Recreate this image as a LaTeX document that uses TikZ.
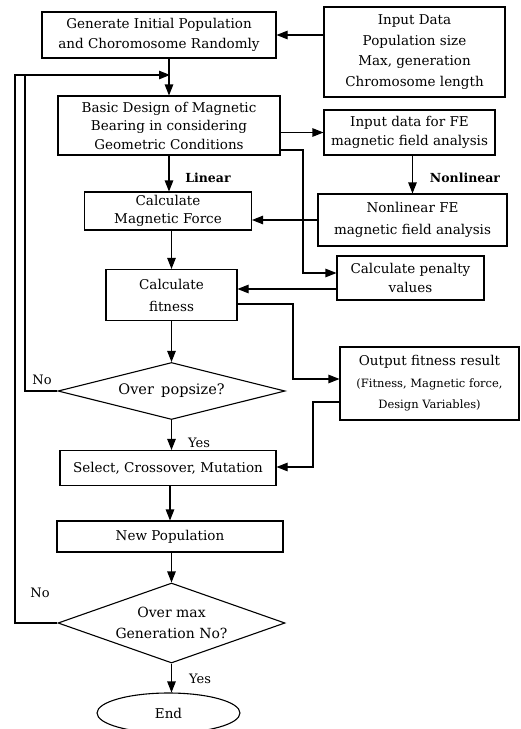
\documentclass[tikz,border=0pt]{standalone}
\usepackage{fontspec}
\setmainfont{DejaVu Serif}
\usetikzlibrary{shapes.geometric,arrows.meta}
\begin{document}
\begin{tikzpicture}[x=1pt,y=-1pt,
  box/.style={draw, line width=1.1pt, inner sep=0pt, align=center, font=\fontsize{13.5}{19.5}\selectfont},
  dec/.style={diamond, draw, line width=1.1pt, inner sep=0pt, align=center, font=\fontsize{13.5}{19.5}\selectfont},
  arr/.style={-{Triangle[length=11pt,width=8.5pt]}, line width=1.1pt},
  ln/.style={line width=1.1pt},
  lbl/.style={inner sep=0pt, font=\fontsize{13}{15}\selectfont},
  blbl/.style={inner sep=0pt, font=\fontsize{12.5}{15}\selectfont\bfseries}]
\useasboundingbox (0,0) rectangle (521,729);
\node[box, minimum width=234pt, minimum height=46pt] (gen) at (159,35) {Generate Initial Population\\and Choromosome Randomly};
\node[box, minimum width=181pt, minimum height=90pt, font=\fontsize{13.5}{20.5}\selectfont] (inp) at (414.5,52) {Input Data\\Population size\\Max, generation\\Chromosome length};
\node[box, minimum width=222pt, minimum height=59pt, font=\fontsize{13.5}{18.5}\selectfont] (basic) at (169,125.5) {Basic Design of Magnetic\\Bearing in considering\\Geometric Conditions};
\node[box, minimum width=171pt, minimum height=45pt] (fein) at (409.5,132.5) {Input data for FE\\magnetic field analysis};
\node[box, minimum width=167pt, minimum height=38pt, font=\fontsize{13.5}{18}\selectfont] (force) at (168,211) {Calculate\\Magnetic Force};
\node[box, minimum width=189pt, minimum height=52pt, font=\fontsize{13.5}{22}\selectfont] (nfe) at (412.5,220) {Nonlinear FE\\magnetic field analysis};
\node[box, minimum width=147pt, minimum height=44pt] (pen) at (410.5,278) {Calculate penalty\\values};
\node[box, minimum width=131pt, minimum height=51pt, font=\fontsize{13.5}{22}\selectfont] (fit) at (171.5,295) {Calculate\\fitness};
\node[box, minimum width=179pt, minimum height=73pt, font=\fontsize{13.5}{21.5}\selectfont] (out) at (429.5,383.5) {Output fitness result\\{\fontsize{11.5}{21.5}\selectfont (Fitness, Magnetic force,}\\{\fontsize{11.5}{21.5}\selectfont Design Variables)}};
\node[dec, aspect=4, minimum width=227pt, minimum height=57pt, font=\fontsize{14.5}{19.5}\selectfont] (pop) at (171.5,391) {Over\hspace{0.5em}popsize?};
\node[box, minimum width=216pt, minimum height=35pt] (sel) at (168,468) {Select, Crossover, Mutation};
\node[box, minimum width=226pt, minimum height=31pt] (newp) at (170,536.5) {New Population};
\node[dec, aspect=2.84, minimum width=227pt, minimum height=80pt, font=\fontsize{14}{21}\selectfont] (maxg) at (171.5,623) {Over max\\Generation No?};
\node[ellipse, draw, line width=1.1pt, inner sep=0pt, minimum width=143pt, minimum height=40pt, font=\fontsize{13.5}{15}\selectfont] (end) at (168.5,713) {End};
% labels
\node[blbl] (lin) at (208,178) {Linear};
\node[blbl] (nlin) at (465,178) {Nonlinear};
\node[lbl] (no1) at (42,380) {No};
\node[lbl] (yes1) at (199,443) {Yes};
\node[lbl] (no2) at (40,593) {No};
\node[lbl] (yes2) at (200,679) {Yes};
% waypoints
\coordinate (t1) at (15,75);
\coordinate (t2) at (25,75);
\coordinate (tj) at (170,75);
\coordinate (p1) at (303,150);
\coordinate (p2) at (303,273);
\coordinate (f1) at (293,304);
\coordinate (f2) at (293,379);
\coordinate (o1) at (313,402);
\coordinate (o2) at (313,467);
% connectors
\draw[arr] (inp.west |- gen.east) -- (gen.east);
\draw[arr] (basic.north |- gen.south) -- (basic.north);
\draw[arr] (maxg.west) -- (maxg.west -| t1) -- (t1) -- (tj);
\draw[ln] (pop.west) -- (pop.west -| t2) -- (t2);
\draw[arr] (basic.east |- fein.west) -- (fein.west);
\draw[arr] (basic.east |- p1) -- (p1) -- (p2) -- (pen.west |- p2);
\draw[arr] (basic.south) -- (basic.south |- force.north);
\draw[arr] (nfe.north |- fein.south) -- (nfe.north);
\draw[arr] (nfe.west) -- (force.east |- nfe.west);
\draw[arr] (pen.west |- 0,289) -- (fit.east |- 0,289);
\draw[arr] (fit.north |- force.south) -- (fit.north);
\draw[arr] (fit.east |- f1) -- (f1) -- (f2) -- (out.west |- f2);
\draw[arr] (fit.south) -- (pop.north);
\draw[arr] (out.west |- o1) -- (o1) -- (o2) -- (sel.east |- o2);
\draw[arr] (pop.south) -- (pop.south |- sel.north);
\draw[arr] (newp.north |- sel.south) -- (newp.north);
\draw[arr] (newp.south -| maxg.north) -- (maxg.north);
\draw[arr] (maxg.south) -- (maxg.south |- end.north);
\end{tikzpicture}
\end{document}
